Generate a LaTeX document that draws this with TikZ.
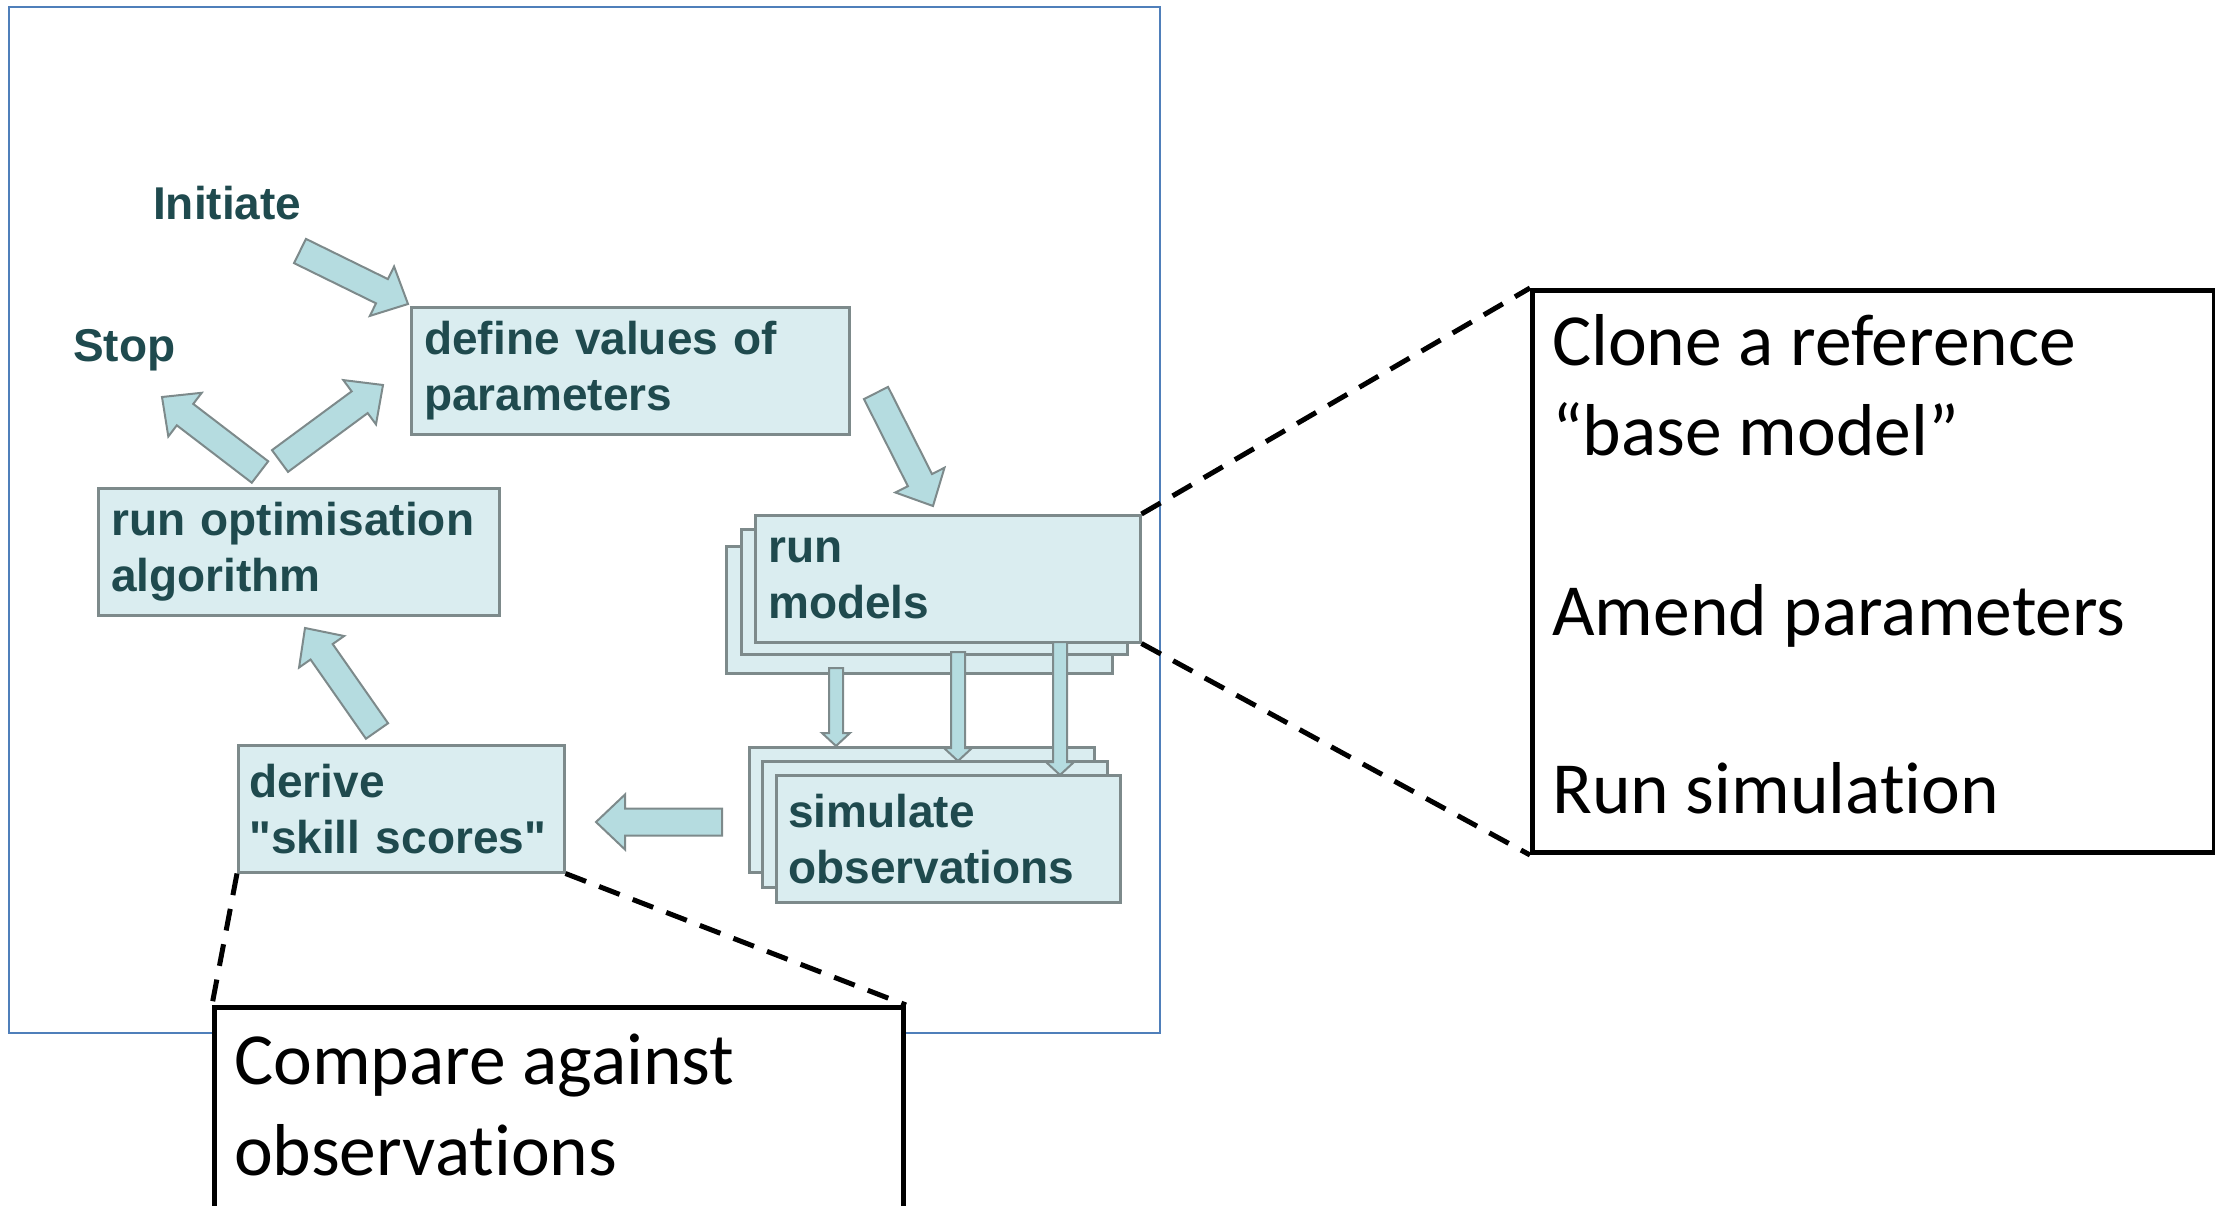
\documentclass[tikz,border=0pt]{standalone}
\usepackage{fontspec}
\setmainfont{Liberation Sans}
\newfontfamily\calloutfont[Ligatures={NoCommon}]{Carlito}
\usetikzlibrary{calc}

\definecolor{boxfill}{HTML}{DAEDF0}
\definecolor{arrowfill}{HTML}{B5DCE0}
\definecolor{edgegray}{HTML}{7D8A8B}
\definecolor{flowtext}{HTML}{1F4A4E}
\definecolor{frameblue}{HTML}{4F7FBA}

\newcommand\flowtxt{\bfseries\fontsize{46}{56}\selectfont}
\newcommand\callouttxt{\calloutfont\fontsize{73.5}{90}\selectfont}

% block arrow: tail, tip, half shaft width, half head width, head length
\newcommand\blockarrow[5]{%
  \coordinate (ba-neck) at ($(#2)!#5!(#1)$);
  \draw[arrowbody] ($(#1)!#3!90:(#2)$) -- ($(ba-neck)!#3!90:(#2)$)
    -- ($(ba-neck)!#4!90:(#2)$) -- (#2) -- ($(ba-neck)!#4!-90:(#2)$)
    -- ($(ba-neck)!#3!-90:(#2)$) -- ($(#1)!#3!-90:(#2)$) -- cycle;}
\newcommand\bigarrow[2]{\blockarrow{#1}{#2}{13.5pt}{27.5pt}{29pt}}
\newcommand\smallarrow[2]{\blockarrow{#1}{#2}{7pt}{14pt}{13pt}}

\begin{document}
\begin{tikzpicture}[x=1pt,y=-1pt,
  flowbox/.style={draw=edgegray, fill=boxfill, line width=2.5pt, anchor=north west,
    inner xsep=13pt, inner ysep=0pt, align=left, font=\flowtxt, text=flowtext},
  plainlabel/.style={inner sep=0pt, anchor=base west, font=\flowtxt, text=flowtext},
  arrowbody/.style={draw=edgegray, fill=arrowfill, line width=2pt, line join=miter},
  callout/.style={draw=black, fill=white, line width=5pt, anchor=north west, inner sep=0pt},
  callline/.style={inner sep=0pt, anchor=base west, font=\callouttxt},
  zoomline/.style={draw=black, line width=5pt, dash pattern=on 22pt off 14pt},
]
\useasboundingbox (0,0) rectangle (2215,1206);
\clip (0,0) rectangle (2215,1206);

% outer frame
\node[draw=frameblue, line width=2pt, anchor=north west, minimum width=1151pt,
  minimum height=1026pt, inner sep=0pt] (frame) at (8,6) {};

% free labels
\node[plainlabel] (initiate) at (153,220) {Initiate};
\node[plainlabel] (stop) at (73,361) {Stop};

% process boxes
\node[flowbox, minimum width=438pt, minimum height=127pt, text width=412pt] (define) at (410,306)
  {define values of\\parameters};
\node[flowbox, minimum width=401pt, minimum height=127pt, text width=375pt] (optim) at (97,487)
  {run optimisation\\algorithm};

\node[flowbox, minimum width=386pt, minimum height=127pt] (modelsC) at (725,545) {};
\node[flowbox, minimum width=386pt, minimum height=125pt] (modelsB) at (740,528) {};
\node[flowbox, minimum width=385pt, minimum height=127pt, text width=359pt] (models) at (754,514)
  {run\\models};

\node[flowbox, minimum width=345pt, minimum height=125pt] (simC) at (748,746) {};
\node[flowbox, minimum width=345pt, minimum height=126pt] (simB) at (761,760) {};
\node[flowbox, minimum width=344pt, minimum height=127pt, text width=320pt, inner xsep=12pt] (sim) at (775,774)
  {simulate\\observations};

\node[flowbox, minimum width=326pt, minimum height=127pt, text width=304pt, inner xsep=11pt] (derive) at (237,744)
  {derive\\\textquotedbl skill scores\textquotedbl};

% arrow end points
\coordinate (a1t) at (300,251); \coordinate (a1h) at (408,304);
\coordinate (a2t) at (876,393); \coordinate (a2h) at (933,506);
\coordinate (a3t) at (280,461); \coordinate (a3h) at (383,385);
\coordinate (a4t) at (260,472); \coordinate (a4h) at (162,397);
\coordinate (a5t) at (377,731); \coordinate (a5h) at (305,628);
\coordinate (a6t) at (722,822); \coordinate (a6h) at (596,822);
\coordinate (s1t) at (836,668); \coordinate (s1h) at (836,746);
\coordinate (s2t) at (958,652); \coordinate (s2h) at (958,761);
\coordinate (s3t) at (1060,642); \coordinate (s3h) at (1060,775);

\bigarrow{a1t}{a1h}
\bigarrow{a2t}{a2h}
\bigarrow{a3t}{a3h}
\bigarrow{a4t}{a4h}
\bigarrow{a5t}{a5h}
\bigarrow{a6t}{a6h}
\smallarrow{s1t}{s1h}
\smallarrow{s2t}{s2h}
\smallarrow{s3t}{s3h}

% call-out boxes
\node[callout, minimum width=682pt, minimum height=562pt] (detail) at (1530,288) {};
\node[callout, minimum width=689pt, minimum height=215pt] (compare) at (212,1005) {};

% zoom lines
\draw[zoomline] (models.north east) -- (detail.north west);
\draw[zoomline] (models.south east) -- (detail.south west);
\draw[zoomline] (derive.south west) -- (compare.north west);
\draw[zoomline] (derive.south east) -- (compare.north east);

% call-out texts
\node[callline] (clone1) at (1552,365) {Clone a reference};
\node[callline] (clone2) at (1552,455) {“base model”};
\node[callline] (amend) at (1552,635) {Amend parameters};
\node[callline] (runsim) at (1552,813) {Run simulation};
\node[callline] (cmp1) at (234,1084) {Compare against};
\node[callline] (cmp2) at (234,1175) {observations};
\end{tikzpicture}
\end{document}
